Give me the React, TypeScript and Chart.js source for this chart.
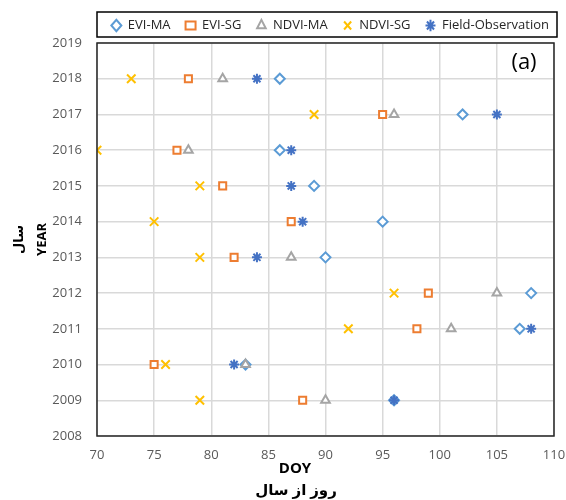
import React, { useEffect, useRef } from "react";
import { Chart, registerables } from "chart.js";

Chart.register(...registerables);

const years = [2009, 2010, 2011, 2012, 2013, 2014, 2015, 2016, 2017, 2018];
const eviMA = [96, 83, 107, 108, 90, 95, 89, 86, 102, 86];
const eviSG = [88, 75, 98, 99, 82, 87, 81, 77, 95, 78];
const ndviMA = [90, 83, 101, 105, 87, null, null, 78, 96, 81];
const ndviSG = [79, 76, 92, 96, 79, 75, 79, 70, 89, 73];
const field = [96, 82, 108, null, 84, 88, 87, 87, 105, 84];
const seriesNames = ["EVI-MA", "EVI-SG", "NDVI-MA", "NDVI-SG", "Field-Observation"];
const xTitle = ["DOY", "روز از سال"];
const yTitle = ["سال", "YEAR"];
const panelLabel = "(a)";

const FONT = "'Open Sans', 'DejaVu Sans', sans-serif";

function pts(vals: (number | null)[]) {
  const out: { x: number; y: number }[] = [];
  vals.forEach((v, i) => {
    if (v !== null) out.push({ x: v, y: years[i] });
  });
  return out;
}

const framePlugin = {
  id: "frame",
  afterLayout(chart: any) {
    if (chart.legend) {
      chart.legend.right += 10;
      chart.legend.top -= 1;
    }
  },
  afterDraw(chart: any) {
    const { ctx, chartArea } = chart;
    ctx.save();
    ctx.strokeStyle = "#262626";
    ctx.lineWidth = 1.5;
    ctx.strokeRect(chartArea.left, chartArea.top, chartArea.right - chartArea.left, chartArea.bottom - chartArea.top);
    // legend border
    ctx.strokeStyle = "#000";
    ctx.lineWidth = 1.5;
    ctx.strokeRect(chartArea.left, 12, 460, 25);
    // panel label
    ctx.fillStyle = "#000";
    ctx.font = `22px ${FONT}`;
    ctx.textAlign = "center";
    ctx.textBaseline = "middle";
    ctx.fillText(panelLabel, chartArea.right - 30, chartArea.top + 20);
    // x axis title (offset left like the original)
    ctx.font = `bold 15px ${FONT}`;
    ctx.fillText(xTitle[0], 295, 469);
    ctx.fillText(xTitle[1], 296, 491);
    ctx.restore();
  },
};

export default function App() {
  const ref = useRef<HTMLCanvasElement | null>(null);
  useEffect(() => {
    document.body.style.margin = "0";
    const canvas = ref.current!;
    const common = { backgroundColor: "#ffffff", pointRadius: 5, pointHoverRadius: 5, pointBorderWidth: 2, showLine: false };
    const chart = new Chart(canvas, {
      type: "scatter",
      data: {
        datasets: [
          { ...common, label: seriesNames[0], data: pts(eviMA), borderColor: "#5B9BD5", pointStyle: "rectRot", order: 5 },
          { ...common, label: seriesNames[1], data: pts(eviSG), borderColor: "#ED7D31", pointStyle: "rect", order: 4 },
          { ...common, label: seriesNames[2], data: pts(ndviMA), borderColor: "#A5A5A5", pointStyle: "triangle", order: 3 },
          { ...common, label: seriesNames[3], data: pts(ndviSG), borderColor: "#FFC000", pointStyle: "crossRot", pointRadius: 6, order: 2 },
          { ...common, label: seriesNames[4], data: pts(field), borderColor: "#4472C4", pointStyle: "star", pointRadius: 5, pointBorderWidth: 2, order: 1 },
        ] as any,
      },
      options: {
        animation: false,
        responsive: false,
        maintainAspectRatio: false,
        layout: { padding: { left: 0, right: 12, top: 5, bottom: 0 } },
        plugins: {
          tooltip: { enabled: false },
          legend: {
            display: true,
            position: "top",
            align: "end",
            labels: {
              usePointStyle: true,
              pointStyleWidth: 10,
              boxHeight: 8,
              padding: 15,
              color: "#262626",
              font: { family: FONT, size: 13 },
              sort: (a: any, b: any) => a.datasetIndex - b.datasetIndex,
            },
          },
        },
        scales: {
          x: {
            type: "linear",
            min: 70,
            max: 110,
            ticks: { stepSize: 5, color: "#595959", font: { family: FONT, size: 13 }, padding: 11 },
            grid: { color: "#D9D9D9", lineWidth: 1.5, drawTicks: false },
            border: { display: false },
            title: { display: false },
            afterFit: (s: any) => { s.height = 64; s.paddingLeft = 0; s.paddingRight = 0; },
          },
          y: {
            type: "linear",
            min: 2008,
            max: 2019,
            ticks: { stepSize: 1, color: "#595959", font: { family: FONT, size: 13 }, padding: 15, callback: (v: any) => String(v) },
            grid: { color: "#D9D9D9", lineWidth: 1.5, drawTicks: false },
            border: { display: false },
            title: { display: true, text: yTitle, color: "#000", font: { family: FONT, size: 13, weight: "bold", lineHeight: 1.75 }, padding: { top: 8, bottom: 0 } },
            afterFit: (s: any) => { s.width = 97; },
          },
        },
      } as any,
      plugins: [framePlugin],
    });
    return () => chart.destroy();
  }, []);
  return (
    <div style={{ width: 566, height: 500 }}>
      <canvas ref={ref} width={566} height={500} style={{ display: "block" }} />
    </div>
  );
}
